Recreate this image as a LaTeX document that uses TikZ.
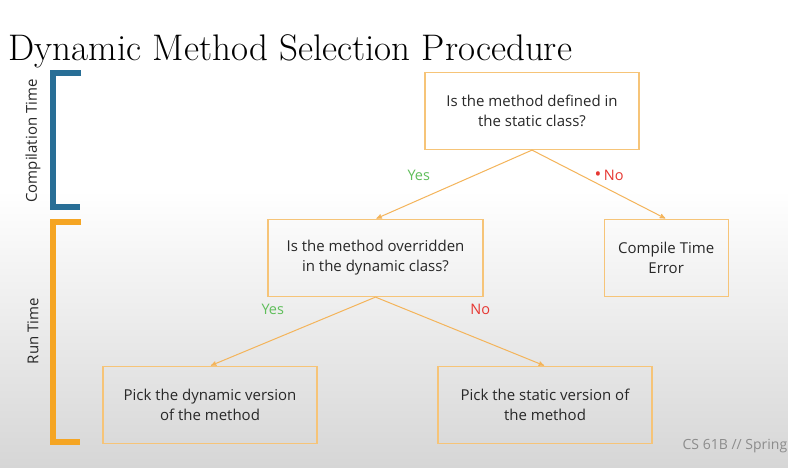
\documentclass[tikz,border=0pt]{standalone}
\usepackage{fontspec}
\setsansfont{Open Sans}
\usepackage{tikz}
\usetikzlibrary{arrows,positioning}

\definecolor{ctblue}{RGB}{40,110,150}
\definecolor{rtorange}{RGB}{245,165,35}
\definecolor{boxline}{RGB}{246,196,120}
\definecolor{arrline}{RGB}{244,180,90}
\definecolor{yesgreen}{RGB}{95,190,90}
\definecolor{nored}{RGB}{230,55,50}
\definecolor{boxtext}{RGB}{40,40,40}

\begin{document}
\begin{tikzpicture}[x=1pt,y=-1pt,->,>=stealth',shorten >=1pt,semithick,
    box/.style={draw=boxline,line width=1.2pt,rectangle,align=center,
      minimum width=214pt,minimum height=77pt,text=boxtext,
      font=\sffamily\fontsize{15}{20}\selectfont},
    yes/.style={text=yesgreen,font=\sffamily\fontsize{14.5}{16}\selectfont},
    no/.style={text=nored,font=\sffamily\fontsize{14.5}{16}\selectfont},
    side/.style={rotate=90,text=boxtext,font=\sffamily\fontsize{15}{16}\selectfont},
    bracket/.style={-,line width=6pt}]
        % page and background
        \useasboundingbox (0,0) rectangle (788,467);
        \fill[white] (0,0) rectangle (788,467);
        \shade[top color=white,bottom color=black!16] (0,190) rectangle (788,467);

        \node[anchor=base west,font=\fontsize{37}{40}\selectfont] (title) at (5,60)
            {Dynamic Method Selection Procedure};

        % brackets
        \draw[bracket,ctblue] (81,73) -- (53,73) -- (53,207) -- (81,207);
        \draw[bracket,rtorange] (81,222) -- (53,222) -- (53,442) -- (81,442);
        \node[side] (ct) at (33,141) {Compilation Time};
        \node[side] (rt) at (33,331) {Run Time};

        \node[box]                      (q1)   at (532,111) {Is the method defined in\\the static class?};
        \node[box,minimum width=215pt]  (q2)   at (375.5,258) {Is the method overridden\\in the dynamic class?};
        \node[box,minimum width=124pt]  (err)  [right=120pt of q2] {Compile Time\\Error};
        \node[box]                      (dyn)  at (210,405) {Pick the dynamic version\\of the method};
        \node[box]                      (stat) at (545,405) {Pick the static version of\\the method};

        \path[every edge/.append style={draw=arrline,line width=1pt}]
        (q1.south) edge node[yes,xshift=-35pt,yshift=9pt] {Yes} (q2.north)
        edge node[no,xshift=10pt,yshift=9pt] {{\fontsize{18}{18}\selectfont\textbullet}\,No} (err.north)
        (q2.south) edge node[yes,xshift=-20pt,yshift=22pt] {Yes} (dyn.north)
        edge node[no,xshift=20pt,yshift=22pt] {No} (stat.north);

        \node[anchor=base west,text=black!45,font=\sffamily\fontsize{14}{16}\selectfont] (course) at (679,449)
            {CS 61B // Spring};
    \end{tikzpicture}
\end{document}
